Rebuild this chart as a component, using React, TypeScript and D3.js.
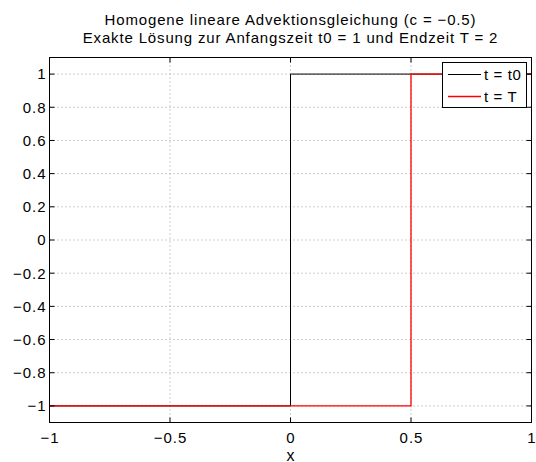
import React from "react";
import * as d3 from "d3";

const titleLines = [
  "Homogene lineare Advektionsgleichung (c = \u22120.5)",
  "Exakte L\u00f6sung zur Anfangszeit t0 = 1 und Endzeit T = 2",
];
const xLabel = "x";
const xTicks = [-1, -0.5, 0, 0.5, 1];
const yTicks = [-1, -0.8, -0.6, -0.4, -0.2, 0, 0.2, 0.4, 0.6, 0.8, 1];
const seriesNames = ["t = t0", "t = T"];
const seriesColors = ["#000000", "#ff0000"];
// step solutions: [x, u]
const solT0: [number, number][] = [
  [-1, -1],
  [0, -1],
  [0, 1],
  [1, 1],
];
const solT: [number, number][] = [
  [-1, -1],
  [0.5, -1],
  [0.5, 1],
  [1, 1],
];
const series = [solT0, solT];

const W = 536;
const H = 462;
const m = { left: 49.5, right: 531.5, top: 57.5, bottom: 422.5 };

const fmt = (v: number) => {
  const s = d3.format("")(+v.toFixed(2));
  return s.replace("-", "\u2212");
};

export default function App() {
  const x = d3.scaleLinear().domain([-1, 1]).range([m.left, m.right]);
  const y = d3.scaleLinear().domain([-1.1, 1.1]).range([m.bottom, m.top]);
  const line = d3
    .line<[number, number]>()
    .x((d) => x(d[0]))
    .y((d) => y(d[1]));
  const font = "'Liberation Sans', Arial, Helvetica, sans-serif";
  const tl = 5;
  const ls = 1;
  return (
    <svg
      width={W}
      height={H}
      style={{ position: "absolute", left: 0, top: 0, background: "#fff" }}
      fontFamily={font}
    >
      <rect x={0} y={0} width={W} height={H} fill="#fff" />
      {/* grid */}
      {xTicks.map((t) => (
        <line
          key={"gx" + t}
          x1={x(t)}
          x2={x(t)}
          y1={m.top}
          y2={m.bottom}
          stroke="#9a9a9a"
          strokeWidth={1}
          strokeDasharray="1,3"
        />
      ))}
      {yTicks.map((t) => (
        <line
          key={"gy" + t}
          x1={m.left}
          x2={m.right}
          y1={y(t)}
          y2={y(t)}
          stroke="#9a9a9a"
          strokeWidth={1}
          strokeDasharray="1,3"
        />
      ))}
      {/* series */}
      {series.map((s, i) => (
        <path
          key={"s" + i}
          d={line(s) || ""}
          fill="none"
          stroke={seriesColors[i]}
          strokeWidth={i === 1 ? 1.3 : 1}
        />
      ))}
      {/* ticks */}
      {xTicks.map((t) => (
        <g key={"tx" + t}>
          <line x1={x(t)} x2={x(t)} y1={m.bottom} y2={m.bottom - tl} stroke="#000" />
          <line x1={x(t)} x2={x(t)} y1={m.top} y2={m.top + tl} stroke="#000" />
          <text
            x={x(t) + ls / 2}
            y={m.bottom + 20}
            textAnchor="middle"
            fontSize={15}
            letterSpacing={ls}
            fill="#000"
          >
            {fmt(t)}
          </text>
        </g>
      ))}
      {yTicks.map((t) => (
        <g key={"ty" + t}>
          <line x1={m.left} x2={m.left + tl} y1={y(t)} y2={y(t)} stroke="#000" />
          <line x1={m.right} x2={m.right - tl} y1={y(t)} y2={y(t)} stroke="#000" />
          <text
            x={m.left - 4 + ls}
            y={y(t)}
            dy="0.36em"
            textAnchor="end"
            fontSize={15}
            letterSpacing={ls}
            fill="#000"
          >
            {fmt(t)}
          </text>
        </g>
      ))}
      {/* box */}
      <rect
        x={m.left}
        y={m.top}
        width={m.right - m.left}
        height={m.bottom - m.top}
        fill="none"
        stroke="#000"
        strokeWidth={1}
      />
      {/* x label */}
      <text x={(m.left + m.right) / 2} y={460.5} textAnchor="middle" fontSize={16}>
        {xLabel}
      </text>
      {/* title */}
      {titleLines.map((t, i) => (
        <text
          key={"t" + i}
          x={(m.left + m.right) / 2}
          y={24.5 + i * 18}
          textAnchor="middle"
          fontSize={15}
          letterSpacing={0.85}
        >
          {t}
        </text>
      ))}
      {/* legend */}
      <g>
        <rect x={442.5} y={62.5} width={84} height={45} fill="#fff" stroke="#000" strokeWidth={1} />
        {seriesNames.map((n, i) => (
          <g key={"l" + i}>
            <line
              x1={448}
              x2={481}
              y1={74.5 + i * 22}
              y2={74.5 + i * 22}
              stroke={seriesColors[i]}
              strokeWidth={i === 1 ? 1.3 : 1}
            />
            <text x={484} y={74.5 + i * 22} dy="0.36em" fontSize={15} letterSpacing={0.6}>
              {n}
            </text>
          </g>
        ))}
      </g>
    </svg>
  );
}
